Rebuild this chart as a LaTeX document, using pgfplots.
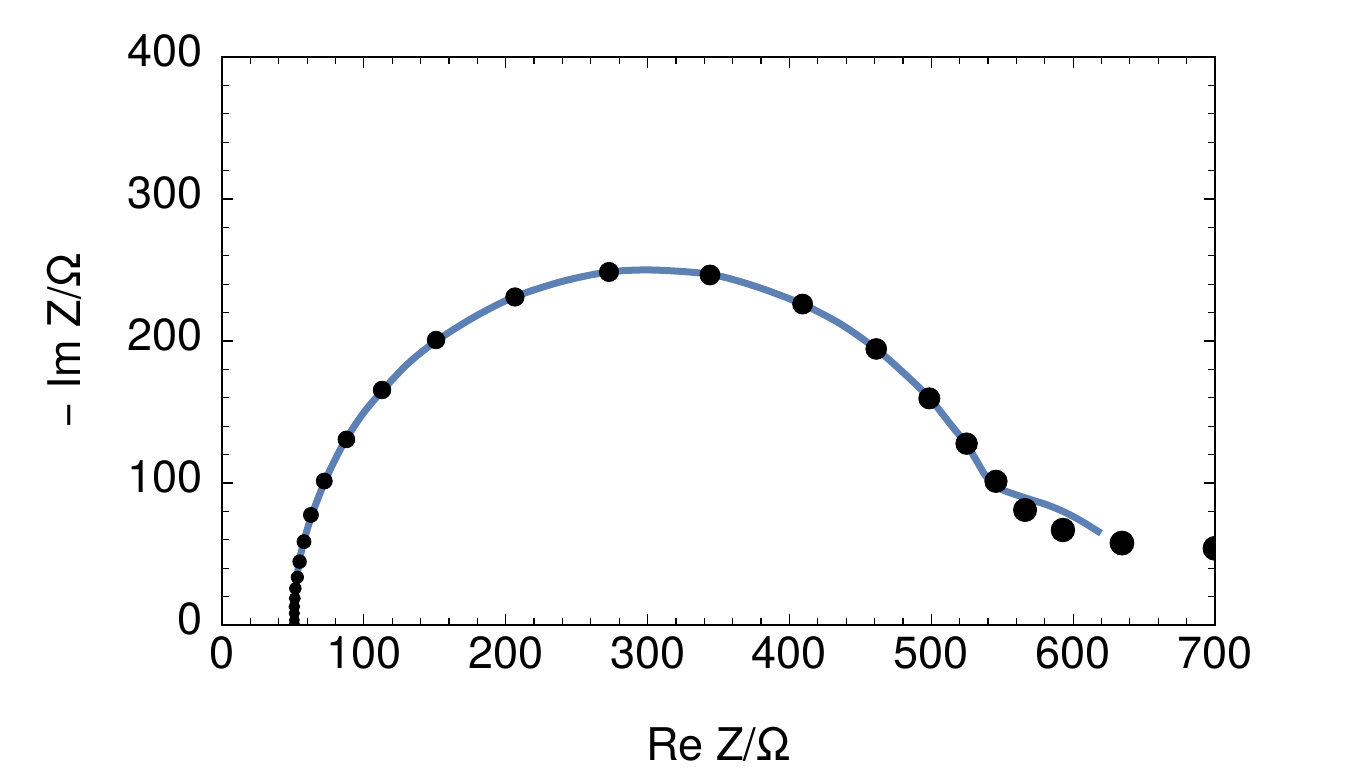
\documentclass[border=0pt]{standalone}
\usepackage{fontspec}
\setmainfont{TeX Gyre Heros}
\usepackage{pgfplots}
\pgfplotsset{compat=1.18}
\usepackage{pgfplotstable}
\definecolor{mblue}{HTML}{5E81B5}

\pgfplotstableread{
x y s
51.0 1.0 2.5
51.0 3.5 2.5
51.0 8.2 2.6
51.0 12.9 2.7
51.3 18.8 2.8
51.7 25.8 2.9
53.1 33.6 3.1
54.7 44.6 3.4
57.8 58.7 3.5
62.7 77.5 3.75
72.1 101.4 4.0
87.7 130.7 4.2
112.8 165.5 4.4
150.9 200.7 4.4
206.5 231.0 4.6
272.8 248.6 4.8
344.0 246.5 5.0
409.3 226.0 5.0
461.2 194.4 5.2
498.6 159.6 5.3
524.9 127.7 5.4
545.6 101.2 5.6
566.1 81.0 5.8
592.8 66.9 5.9
634.4 57.7 6.0
700.0 54.0 6.0
}\pts

\pgfplotstableread{
x y
50.5 0
51.2 15
52.5 30
54.5 45
58 60
63.5 78
72 100
79 115
87.5 131
99.5 149
113 165
131 184
151 200
178 217
206 231
240 242
272 248.5
303 250
344 247
376 238.5
409 226
436 212
461 194.5
480 178
498.6 160
513 142
525 127
532 115.5
538 105.5
544 98.8
551 94.8
560 91.6
570 88.3
582 84.5
595 79
607 72.5
619.6 64.6
}\fit

\begin{document}
\begin{tikzpicture}
\path[use as bounding box] (-111pt,-77.5pt) rectangle (570.5pt,312.5pt);
\begin{axis}[
  at={(0,0)}, anchor=south west,
  scale only axis, width=496.5pt, height=284pt,
  xmin=0, xmax=700, ymin=0, ymax=400,
  xtick={0,100,...,700}, ytick={0,100,...,400},
  minor tick num=4,
  tick pos=both, tick align=inside,
  major tick length=5.5pt, minor tick length=3.5pt,
  every tick/.style={black, line width=0.6pt},
  axis line style={black, line width=0.7pt},
  clip mode=global, clip marker paths=true,
  /pgf/number format/assume math mode=true,
  tick label style={font=\fontsize{22.5}{27}\selectfont, inner sep=0pt},
  xticklabel style={yshift=-5.5pt},
  yticklabel style={xshift=-9.5pt, yshift=3pt},
  label style={font=\fontsize{22.5}{27}\selectfont, inner sep=0pt},
  xlabel={Re Z/Ω},
  ylabel={− Im Z/Ω},
  xlabel style={at={(axis description cs:0.5,-0.2377)}, anchor=base},
  ylabel style={at={(axis description cs:-0.142,0.5)}, anchor=base},
]
\addplot[mblue, line width=3.5pt, smooth, no marks] table[x=x,y=y]{\fit};
\addplot[scatter, only marks, mark=*, black,
  scatter/use mapped color={draw=black, fill=black},
  visualization depends on={\thisrow{s}\as\msize},
  scatter/@pre marker code/.append style={/tikz/mark size=\msize pt}]
  table[x=x,y=y]{\pts};
\end{axis}
\end{tikzpicture}
\end{document}
